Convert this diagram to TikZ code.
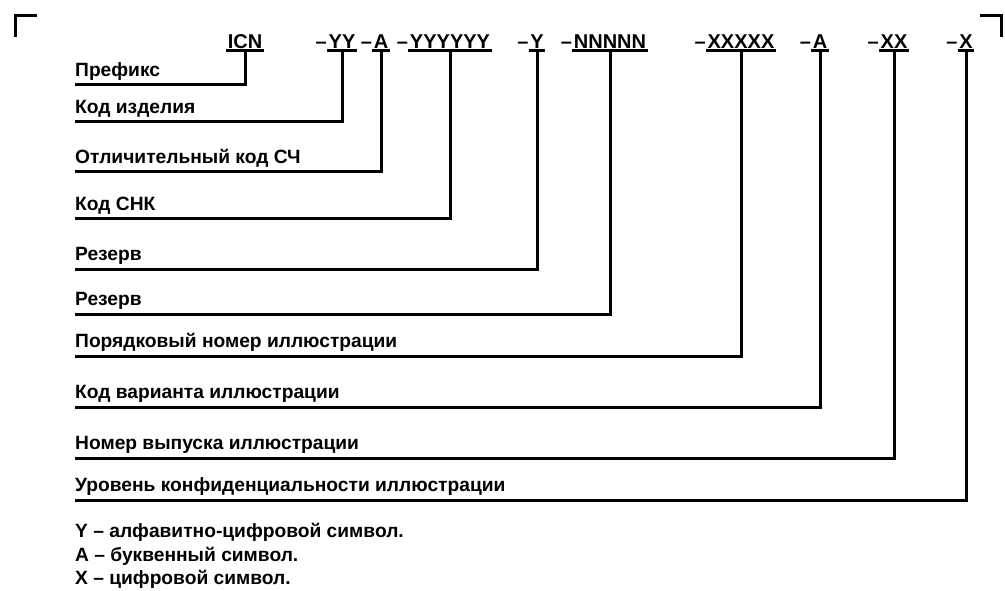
\documentclass[tikz,border=0pt]{standalone}
\usepackage{fontspec}
\setmainfont{Liberation Sans}
\tikzset{
  lbl/.style={anchor=south west, inner xsep=0pt, inner ysep=8pt, text depth=0pt,
    font=\bfseries\fontsize{19.2}{21}\selectfont},
  code/.style={anchor=base, inner xsep=1.5pt, inner ysep=1.5pt, text depth=0pt,
    font=\bfseries\fontsize{20}{22}\selectfont},
  hyph/.style={anchor=base east, inner sep=0pt, font=\bfseries\fontsize{20}{22}\selectfont},
  note/.style={anchor=base west, inner sep=0pt, font=\bfseries\fontsize{19.2}{21}\selectfont},
  link/.style={line width=3pt},
}
\begin{document}
\begin{tikzpicture}[x=1pt, y=-1pt]

\useasboundingbox (0,0) rectangle (1005,591); %% page

%% corner marks
\draw[link] (15,37) -- (15,16) -- (37,16);
\draw[link] (980,16) -- (1001,16) -- (1001,37);

%% the designation
\node[code] (c1) at (245,49) {ICN};
\node[code] (c2) at (342,49) {YY};
\node[code] (c3) at (381,49) {A};
\node[code] (c4) at (450,49) {YYYYYY};
\node[code] (c5) at (537,49) {Y};
\node[code] (c6) at (610,49) {NNNNN};
\node[code] (c7) at (741,49) {XXXXX};
\node[code] (c8) at (820,49) {A};
\node[code] (c9) at (894,49) {XX};
\node[code] (c10) at (966,49) {X};

\node[hyph] (h2) at (c2.base west) {–};
\node[hyph] (h3) at (c3.base west) {–};
\node[hyph] (h4) at (c4.base west) {–};
\node[hyph] (h5) at (c5.base west) {–};
\node[hyph] (h6) at (c6.base west) {–};
\node[hyph] (h7) at (c7.base west) {–};
\node[hyph] (h8) at (c8.base west) {–};
\node[hyph] (h9) at (c9.base west) {–};
\node[hyph] (h10) at (c10.base west) {–};

%% parts
\node[lbl] (l1) at (75,85) {Префикс};
\node[lbl] (l2) at (75,122) {Код изделия};
\node[lbl] (l3) at (75,172) {Отличительный код СЧ};
\node[lbl] (l4) at (75,219) {Код СНК};
\node[lbl] (l5) at (75,269) {Резерв};
\node[lbl] (l6) at (75,314) {Резерв};
\node[lbl] (l7) at (75,356) {Порядковый номер иллюстрации};
\node[lbl] (l8) at (75,407) {Код варианта иллюстрации};
\node[lbl] (l9) at (75,458) {Номер выпуска иллюстрации};
\node[lbl] (l10) at (75,500) {Уровень конфиденциальности иллюстрации};

%% underlines and leaders
\draw[link] (c1.south west) -- (c1.south east);
\draw[link] (c2.south west) -- (c2.south east);
\draw[link] (c3.south west) -- (c3.south east);
\draw[link] (c4.south west) -- (c4.south east);
\draw[link] (c5.south west) -- (c5.south east);
\draw[link] (c6.south west) -- (c6.south east);
\draw[link] (c7.south west) -- (c7.south east);
\draw[link] (c8.south west) -- (c8.south east);
\draw[link] (c9.south west) -- (c9.south east);
\draw[link] (c10.south west) -- (c10.south east);

\draw[link] (l1.south west) -| (c1.south);
\draw[link] (l2.south west) -| (c2.south);
\draw[link] (l3.south west) -| (c3.south);
\draw[link] (l4.south west) -| (c4.south);
\draw[link] (l5.south west) -| (c5.south);
\draw[link] (l6.south west) -| (c6.south);
\draw[link] (l7.south west) -| (c7.south);
\draw[link] (l8.south west) -| (c8.south);
\draw[link] (l9.south west) -| (c9.south);
\draw[link] (l10.south west) -| (c10.south);

%% legend
\node[note] (n1) at (75,537) {Y – алфавитно-цифровой символ.};
\node[note] (n2) at (75,561) {A – буквенный символ.};
\node[note] (n3) at (75,584) {X – цифровой символ.};

\end{tikzpicture}
\end{document}
